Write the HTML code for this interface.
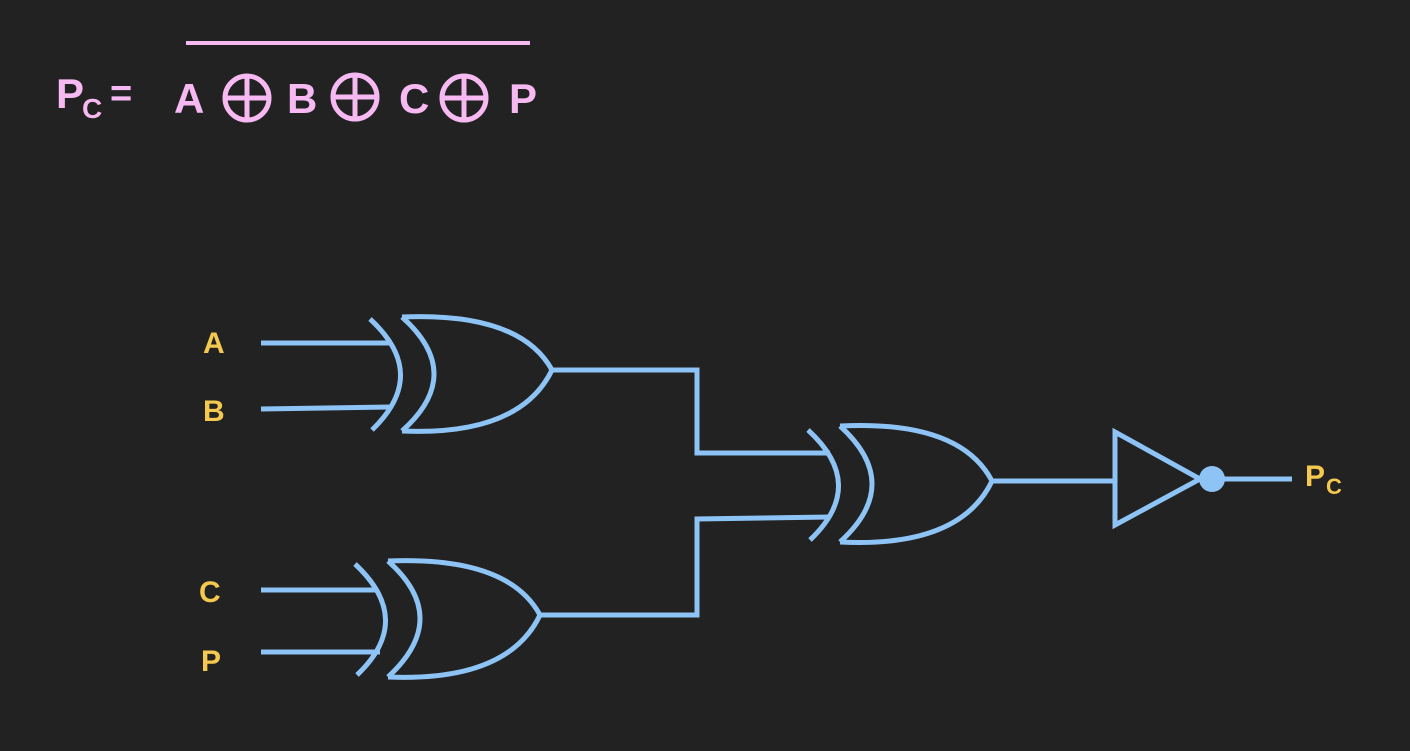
<!DOCTYPE html>
<html><head><style>
html,body{margin:0;padding:0;background:#222222;}
svg{display:block}
text{font-family:"Liberation Sans",sans-serif;font-weight:bold;}
</style></head><body>
<svg width="1410" height="751" viewBox="0 0 1410 751" xmlns="http://www.w3.org/2000/svg">
<rect width="1410" height="751" fill="#222222"/>
<g fill="#f7b9f1">
<text x="56" y="108" font-size="42">P</text>
<text x="82" y="118" font-size="28">C</text>
<text x="110" y="106" font-size="38">=</text>
<text x="174" y="113" font-size="42">A</text>
<text x="287" y="113" font-size="42">B</text>
<text x="399" y="113" font-size="42">C</text>
<text x="509" y="113" font-size="42">P</text>
</g>
<rect x="186" y="41" width="344" height="4" fill="#f7b9f1"/>
<g stroke="#f7b9f1" stroke-width="5" fill="none">
<circle cx="247" cy="98" r="22"/><path d="M225 98H269M247 76V120"/>
<circle cx="355" cy="97" r="22"/><path d="M333 97H377M355 75V119"/>
<circle cx="464" cy="98" r="22"/><path d="M442 98H486M464 76V120"/>
</g>
<g fill="#f5c94f">
<text x="203" y="353" font-size="30">A</text>
<text x="203" y="421" font-size="30">B</text>
<text x="199" y="602" font-size="30">C</text>
<text x="201" y="671" font-size="30">P</text>
<text x="1305" y="486" font-size="30">P</text>
<text x="1326" y="494" font-size="22">C</text>
</g>
<g stroke="#8dc3f5" stroke-width="5" fill="none" stroke-linejoin="miter">
<path d="M370 319 Q430 374 372 430"/>
<path d="M402 317 Q466 374 402 431"/>
<path d="M402 317 Q520 312 552 370 Q520 436 402 431"/>
<path d="M355 564 Q415 620 357 675"/>
<path d="M388 561 Q452 618 388 677"/>
<path d="M388 561 Q508 556 540 615 Q508 682 388 677"/>
<path d="M808 430 Q868 485 810 540"/>
<path d="M840 426 Q904 484 840 542"/>
<path d="M840 426 Q960 420 992 481 Q960 548 840 542"/>
<path d="M261 343H392M261 409L392 407"/>
<path d="M261 590H377M261 652H380"/>
<path d="M552 370H697V453H830"/>
<path d="M540 615H697V519L830 517"/>
<path d="M992 481H1115"/>
<path d="M1115 432V525L1200 479Z"/>
<path d="M1212 479H1292"/>
</g>
<circle cx="1212" cy="479" r="13" fill="#8dc3f5"/>
</svg>
</body></html>
